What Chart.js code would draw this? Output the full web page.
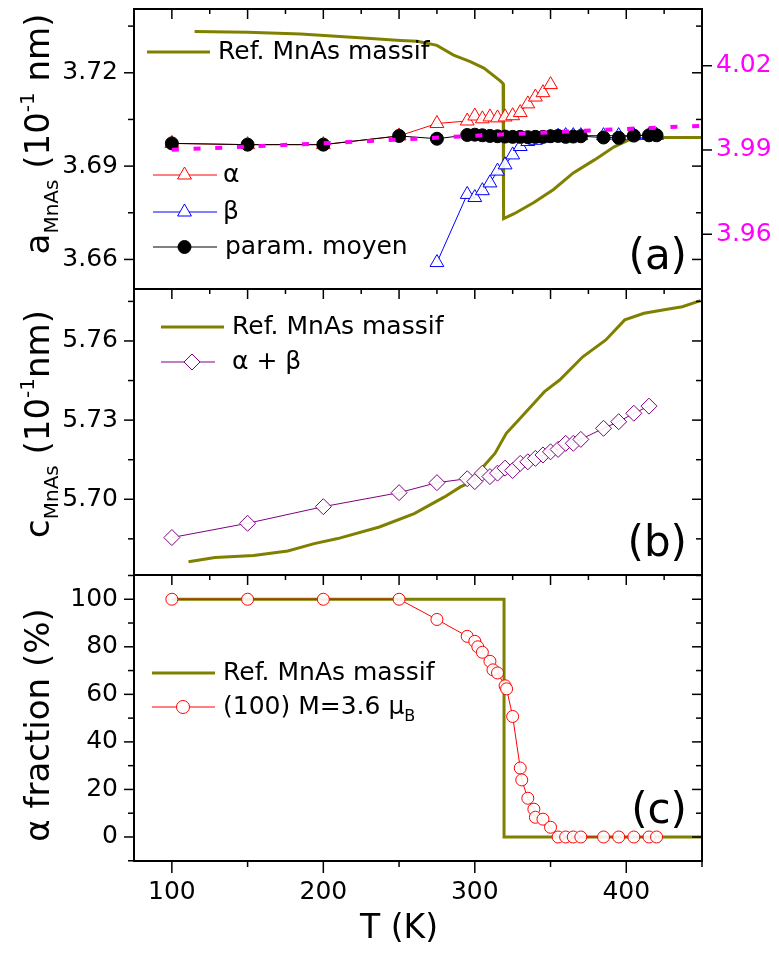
<!DOCTYPE html>
<html>
<head>
<meta charset="utf-8">
<script src="https://cdn.jsdelivr.net/npm/chart.js@4.4.1/dist/chart.umd.min.js"></script>
<style>
  html, body { margin: 0; padding: 0; background: #fff; }
  #wrap { position: relative; width: 779px; height: 955px; }
  #wrap canvas { position: absolute; left: 0; top: 0; }
</style>
</head>
<body>
<div id="wrap">
  <canvas id="chartA" width="779" height="955"></canvas>
  <canvas id="chartB" width="779" height="955"></canvas>
  <canvas id="chartC" width="779" height="955"></canvas>
</div>
<script>
// --- données ---

// (a) paramètre a
const T_ALPHA = [100, 150, 200, 250, 275, 295, 300, 305, 310, 315, 320, 325, 330, 335, 340, 345, 350];
const A_ALPHA = [3.6973, 3.6969, 3.6969, 3.6997, 3.7037, 3.7045, 3.7061, 3.7052, 3.7058, 3.7055, 3.7058, 3.7062, 3.7072, 3.7100, 3.7122, 3.7136, 3.7162];

const T_BETA = [275, 295, 300, 305, 310, 315, 320, 325, 330, 335, 340, 345, 350, 355, 360, 365, 370, 385, 395, 405, 415, 420];
const A_BETA = [3.6590, 3.6809, 3.6799, 3.6821, 3.6846, 3.6884, 3.6904, 3.6936, 3.6963, 3.6979, 3.6983, 3.6990, 3.6993, 3.6996, 3.6998, 3.6998, 3.6998, 3.6998, 3.6998, 3.6999, 3.6999, 3.6999];

const T_MEAN = [100, 150, 200, 250, 275, 295, 300, 305, 310, 315, 320, 325, 330, 335, 340, 345, 350, 355, 360, 365, 370, 385, 395, 405, 415, 420];
const A_MEAN = [3.6973, 3.6969, 3.6969, 3.6997, 3.6988, 3.7000, 3.7001, 3.6999, 3.6997, 3.6996, 3.6995, 3.6994, 3.6994, 3.6993, 3.6994, 3.6994, 3.6996, 3.6997, 3.6994, 3.6995, 3.6996, 3.6992, 3.6991, 3.6998, 3.6999, 3.6999];

// courbe pointillée magenta (axe de droite)
const T_FIT = [100, 150, 200, 250, 300, 350, 400, 450];
const A_FIT = [3.9901, 3.9912, 3.9924, 3.9937, 3.9951, 3.9963, 3.9975, 3.9986];

// référence MnAs massif
const T_REF_A = [115, 150, 185, 229, 251, 262, 275, 286, 297, 306, 317, 318.7, 319, 326, 339, 352, 365, 379, 392, 401, 414, 427, 451];
const A_REF = [3.7333, 3.7330, 3.7325, 3.7311, 3.7304, 3.7301, 3.7288, 3.7257, 3.7236, 3.7215, 3.7173, 3.7165, 3.6731, 3.6747, 3.6783, 3.6825, 3.6878, 3.6920, 3.6962, 3.6983, 3.6991, 3.6992, 3.6992];

// (b) paramètre c
const T_CAB = [100, 150, 200, 250, 275, 295, 300, 305, 310, 315, 320, 325, 330, 335, 340, 345, 350, 355, 360, 365, 370, 385, 395, 405, 415];
const C_AB = [5.6855, 5.6909, 5.6972, 5.7025, 5.7063, 5.7078, 5.7067, 5.7099, 5.7086, 5.7099, 5.7118, 5.7109, 5.7136, 5.7142, 5.7155, 5.7168, 5.7180, 5.7189, 5.7212, 5.7212, 5.7227, 5.7269, 5.7294, 5.7326, 5.7353];

const T_REF_B = [111, 128.5, 154, 176.5, 194, 209.5, 237, 260, 280, 290.5, 295.5, 305.5, 313.3, 320.8, 330.9, 341, 346, 356, 371.3, 386.5, 399, 411.7, 427, 437, 449];
const C_REF = [5.6763, 5.6779, 5.6787, 5.6804, 5.6832, 5.6851, 5.6895, 5.6946, 5.7009, 5.7047, 5.7060, 5.7123, 5.7174, 5.7250, 5.7313, 5.7376, 5.7408, 5.7452, 5.7540, 5.7604, 5.7680, 5.7705, 5.7720, 5.7730, 5.7753];

// (c) fraction alpha
const T_FRAC = [100, 150, 200, 250, 275, 295, 300, 302, 305, 310, 312, 315, 320, 321, 325, 330, 331, 335, 339, 340, 345, 350, 355, 360, 365, 370, 385, 395, 405, 415, 420];
const F_ALPHA = [100, 100, 100, 100, 91.5, 84.4, 82.3, 80, 77.7, 73.9, 70.3, 69, 63.6, 62.3, 50.7, 29, 24, 16.3, 11.7, 8.3, 7.5, 4.1, 0, 0, 0, 0, 0, 0, 0, 0, 0];

const T_REF_C = [100, 319.3, 319.3, 450];
const F_REF = [100, 100, 0, 0];

// graduations
const X_LABELS = [100, 200, 300, 400];
const X_MINOR = [150, 250, 350, 450];
const X_TOP_MAJOR = [100, 150, 200, 250, 300, 350, 400, 450];
const X_TOP_MINOR = [125, 175, 225, 275, 325, 375, 425];
const A_TICKS = [3.66, 3.69, 3.72];
const A_MINOR = [3.675, 3.705, 3.735];
const A2_TICKS = [3.96, 3.99, 4.02];
const C_TICKS = [5.70, 5.73, 5.76];
const C_MINOR = [5.685, 5.715, 5.745, 5.775];
const F_TICKS = [0, 20, 40, 60, 80, 100];
const F_MINOR = [-10, 10, 30, 50, 70, 90, 110];

const FONT = 'DejaVu Sans';
const OLIVE = '#808000', RED = '#ff0000', BLUE = '#0000ff', MAGENTA = '#ff00ff', PURPLE = '#800080';

const pts = (xs, ys) => xs.map((x, i) => ({ x: x, y: ys[i] }));

// textes et légendes de chaque panneau
const DECOR = {
  chartA: {
    yMajor: A_TICKS, yMinor: A_MINOR, y2Major: A2_TICKS, bottom: false,
    title: { cy: 134, bx: 49, segs: [{ t: 'a' }, { t: 'MnAs', small: true, dy: 9 }, { t: ' (10' }, { t: '-1', small: true, dy: -15 }, { t: ' nm)' }] },
    label: { t: '(a)', x: 687, y: 258 },
    legend: [
      { y: 52, x1: 147, x2: 210, color: OLIVE, lw: 3, tx: 218, segs: [{ t: 'Ref. MnAs massif' }] },
      { y: 175, x1: 153, x2: 217, color: RED, lw: 1, marker: 'triangle', r: 8, mx: 184.5, tx: 223, segs: [{ t: 'α' }] },
      { y: 212, x1: 153, x2: 217, color: BLUE, lw: 1, marker: 'triangle', r: 8, mx: 184.5, tx: 223, segs: [{ t: 'β' }] },
      { y: 247, x1: 153, x2: 217, color: '#000', lw: 1, marker: 'circle', r: 6.5, fill: '#000', mx: 184.5, tx: 225, segs: [{ t: 'param. moyen' }] }
    ]
  },
  chartB: {
    yMajor: C_TICKS, yMinor: C_MINOR, bottom: false,
    title: { cy: 424, bx: 49, segs: [{ t: 'c' }, { t: 'MnAs', small: true, dy: 9 }, { t: ' (10' }, { t: '-1', small: true, dy: -15 }, { t: 'nm)' }] },
    label: { t: '(b)', x: 687, y: 545 },
    legend: [
      { y: 327, x1: 161, x2: 224, color: OLIVE, lw: 3, tx: 232, segs: [{ t: 'Ref. MnAs massif' }] },
      { y: 362, x1: 161, x2: 215, color: PURPLE, lw: 1, marker: 'rectRot', r: 8, mx: 192, tx: 232, segs: [{ t: 'α + β' }] }
    ]
  },
  chartC: {
    yMajor: F_TICKS, yMinor: F_MINOR, bottom: true,
    title: { cy: 725, bx: 49, segs: [{ t: 'α fraction (%)' }] },
    label: { t: '(c)', x: 687, y: 812 },
    xTitle: { t: 'T (K)', x: 399, y: 929 },
    legend: [
      { y: 673, x1: 152, x2: 215, color: OLIVE, lw: 3, tx: 223, segs: [{ t: 'Ref. MnAs massif' }] },
      { y: 707, x1: 152, x2: 215, color: RED, lw: 1, marker: 'circle', r: 6.5, mx: 183, tx: 223, segs: [{ t: '(100) M=3.6 μ' }, { t: 'B', small: true, dy: 10 }] }
    ]
  }
};

function drawSegs(ctx, segs, x, y, size, small) {
  let cx = x;
  segs.forEach(s => {
    ctx.font = (s.small ? small : size) + 'px "' + FONT + '"';
    ctx.fillText(s.t, cx, y + (s.dy || 0));
    cx += ctx.measureText(s.t).width;
  });
  return cx - x;
}

function segsWidth(ctx, segs, size, small) {
  let w = 0;
  segs.forEach(s => {
    ctx.font = (s.small ? small : size) + 'px "' + FONT + '"';
    w += ctx.measureText(s.t).width;
  });
  return w;
}

// cadre, graduations, titres et légendes
const decorPlugin = {
  id: 'decor',
  afterDraw(chart) {
    const d = DECOR[chart.canvas.id];
    const ctx = chart.ctx;
    const a = chart.chartArea;
    const xs = chart.scales.x, ys = chart.scales.y;
    const seg = (x1, y1, x2, y2) => { ctx.beginPath(); ctx.moveTo(x1, y1); ctx.lineTo(x2, y2); ctx.stroke(); };

    ctx.save();
    ctx.strokeStyle = '#000';
    ctx.lineWidth = 1.5;
    d.yMajor.forEach(v => { const p = ys.getPixelForValue(v); seg(a.left - 10, p, a.left, p); seg(a.right, p, a.right - 10, p); });
    d.yMinor.forEach(v => { const p = ys.getPixelForValue(v); seg(a.left - 6, p, a.left, p); seg(a.right, p, a.right - 6, p); });
    if (d.y2Major) {
      d.y2Major.forEach(v => { const p = chart.scales.y2.getPixelForValue(v); seg(a.right, p, a.right + 10, p); });
    }
    X_TOP_MAJOR.forEach(v => { const p = xs.getPixelForValue(v); seg(p, a.top, p, a.top + 10); });
    X_TOP_MINOR.forEach(v => { const p = xs.getPixelForValue(v); seg(p, a.top, p, a.top + 5); });
    if (d.bottom) {
      X_LABELS.forEach(v => { const p = xs.getPixelForValue(v); seg(p, a.bottom, p, a.bottom + 12); });
      X_MINOR.forEach(v => { const p = xs.getPixelForValue(v); seg(p, a.bottom, p, a.bottom + 6); });
    }
    ctx.lineWidth = 2;
    ctx.strokeRect(a.left, a.top, a.right - a.left, a.bottom - a.top);

    // légende
    ctx.fillStyle = '#000';
    ctx.textBaseline = 'middle';
    ctx.textAlign = 'left';
    d.legend.forEach(it => {
      ctx.strokeStyle = it.color;
      ctx.lineWidth = it.lw;
      seg(it.x1, it.y, it.x2, it.y);
      if (it.marker) {
        ctx.fillStyle = it.fill || '#fff';
        ctx.lineWidth = 1;
        Chart.helpers.drawPoint(ctx, { pointStyle: it.marker, radius: it.r, rotation: 0, borderWidth: 1 }, it.mx, it.y);
      }
      ctx.fillStyle = '#000';
      drawSegs(ctx, it.segs, it.tx, it.y, 25, 16);
    });

    // étiquette du panneau
    ctx.textAlign = 'right';
    ctx.font = '42px "' + FONT + '"';
    ctx.fillText(d.label.t, d.label.x, d.label.y);

    // titre de l'axe T
    if (d.xTitle) {
      ctx.textAlign = 'center';
      ctx.font = '33px "' + FONT + '"';
      ctx.fillText(d.xTitle.t, d.xTitle.x, d.xTitle.y);
    }

    // titre vertical
    ctx.textAlign = 'left';
    ctx.textBaseline = 'alphabetic';
    const w = segsWidth(ctx, d.title.segs, 34, 20);
    ctx.translate(d.title.bx, d.title.cy);
    ctx.rotate(-Math.PI / 2);
    drawSegs(ctx, d.title.segs, -w / 2, 0, 34, 20);
    ctx.restore();
  }
};

const tickFont = { family: FONT, size: 25 };

// pas de marge automatique autour des étiquettes : les zones de tracé sont fixées par le padding
function noPad(s) {
  s.paddingTop = 0; s.paddingBottom = 0; s.paddingLeft = 0; s.paddingRight = 0;
}

function yScale(min, max, ticks, digits, width) {
  return {
    type: 'linear', position: 'left', min: min, max: max,
    afterBuildTicks: s => { s.ticks = ticks.map(v => ({ value: v })); },
    afterFit: s => { s.width = width; noPad(s); },
    ticks: { font: tickFont, color: '#000', padding: 16, callback: v => Number(v).toFixed(digits) },
    grid: { display: false, drawTicks: false },
    border: { display: false }
  };
}

function hiddenX() {
  return { type: 'linear', min: 75, max: 450, display: false };
}

function baseOptions(padding, scales) {
  return {
    responsive: false,
    animation: false,
    devicePixelRatio: 1,
    layout: { padding: padding },
    plugins: { legend: { display: false }, tooltip: { enabled: false } },
    elements: { line: { tension: 0 } },
    scales: scales
  };
}

// (a)
new Chart(document.getElementById('chartA'), {
  type: 'line',
  data: {
    datasets: [
      { data: pts(T_FIT, A_FIT), yAxisID: 'y2', borderColor: MAGENTA, borderWidth: 4, borderDash: [7, 14.7], pointRadius: 0, order: 0 },
      { data: pts(T_MEAN, A_MEAN), borderColor: '#000', borderWidth: 1, pointStyle: 'circle', pointRadius: 6.5, pointBackgroundColor: '#000', pointBorderColor: '#000', order: 1 },
      { data: pts(T_ALPHA, A_ALPHA), borderColor: RED, borderWidth: 1, pointStyle: 'triangle', pointRadius: 8, pointBackgroundColor: 'rgba(255,255,255,0.9)', pointBorderColor: RED, pointBorderWidth: 1, order: 2 },
      { data: pts(T_BETA, A_BETA), borderColor: BLUE, borderWidth: 1, pointStyle: 'triangle', pointRadius: 8, pointBackgroundColor: 'rgba(255,255,255,0.9)', pointBorderColor: BLUE, pointBorderWidth: 1, order: 3 },
      { data: pts(T_REF_A, A_REF), borderColor: OLIVE, borderWidth: 3, pointRadius: 0, order: 4 }
    ]
  },
  options: baseOptions({ top: 3, bottom: 666, left: 0, right: 0 }, {
    x: hiddenX(),
    y: yScale(3.6505, 3.7405, A_TICKS, 2, 134),
    y2: {
      type: 'linear', position: 'right', min: 3.9405, max: 4.0402,
      afterBuildTicks: s => { s.ticks = A2_TICKS.map(v => ({ value: v })); },
      afterFit: s => { s.width = 77; noPad(s); },
      ticks: { font: tickFont, color: MAGENTA, padding: 14, callback: v => Number(v).toFixed(2) },
      grid: { display: false, drawTicks: false },
      border: { display: false }
    }
  }),
  plugins: [decorPlugin]
});

// (b)
new Chart(document.getElementById('chartB'), {
  type: 'line',
  data: {
    datasets: [
      { data: pts(T_CAB, C_AB), borderColor: PURPLE, borderWidth: 1, pointStyle: 'rectRot', pointRadius: 8, pointBackgroundColor: 'rgba(255,255,255,0.9)', pointBorderColor: PURPLE, pointBorderWidth: 1, order: 0 },
      { data: pts(T_REF_B, C_REF), borderColor: OLIVE, borderWidth: 3, pointRadius: 0, order: 1 }
    ]
  },
  options: baseOptions({ top: 289, bottom: 380, left: 0, right: 77 }, {
    x: hiddenX(),
    y: yScale(5.6713, 5.7797, C_TICKS, 2, 134)
  }),
  plugins: [decorPlugin]
});

// (c)
new Chart(document.getElementById('chartC'), {
  type: 'line',
  data: {
    datasets: [
      { data: pts(T_FRAC, F_ALPHA), borderColor: RED, borderWidth: 1, pointStyle: 'circle', pointRadius: 6, pointBackgroundColor: 'rgba(255,255,255,0.9)', pointBorderColor: RED, pointBorderWidth: 1, order: 0 },
      { data: pts(T_REF_C, F_REF), borderColor: OLIVE, borderWidth: 3, pointRadius: 0, order: 1 }
    ]
  },
  options: baseOptions({ top: 575, bottom: 0, left: 0, right: 77 }, {
    x: {
      type: 'linear', position: 'bottom', min: 75, max: 450,
      afterBuildTicks: s => { s.ticks = X_LABELS.map(v => ({ value: v })); },
      afterFit: s => { s.height = 94; noPad(s); },
      ticks: { font: tickFont, color: '#000', padding: 16, maxRotation: 0 },
      grid: { display: false, drawTicks: false },
      border: { display: false }
    },
    y: yScale(-10.1, 110.2, F_TICKS, 0, 134)
  }),
  plugins: [decorPlugin]
});
</script>
</body>
</html>
